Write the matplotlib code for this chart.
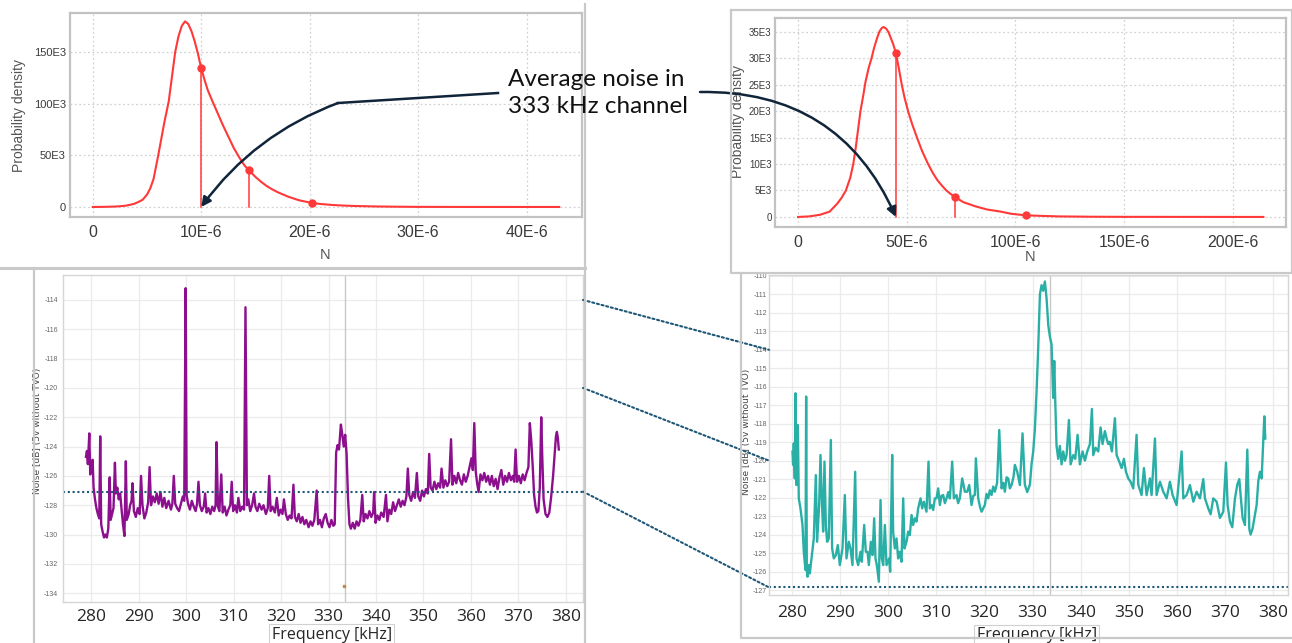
import matplotlib
matplotlib.use("Agg")
import matplotlib.pyplot as plt
from matplotlib.lines import Line2D
from matplotlib.patches import ConnectionPatch
from matplotlib.ticker import FuncFormatter

plt.rcParams["axes.unicode_minus"] = False

# ---- probability density of the average noise (N in 1e-6, density in 1e3) ----
pdf_a_n = [0, 1, 2, 2.5, 3, 3.4, 3.8, 4.2, 4.6, 5, 5.3, 5.6, 6, 6.3, 6.6, 7,
           7.3, 7.6, 7.9, 8.2, 8.5, 8.8, 9.1, 9.4, 9.7, 10, 10.3, 10.6, 11,
           11.5, 12, 12.5, 13, 13.5, 14, 14.4, 15, 15.5, 16, 16.5, 17, 18, 19,
           20.2, 21, 22, 23, 24, 26, 28, 30, 33, 36, 43]
pdf_a_d = [0, 0.1, 0.4, 0.7, 1.2, 2, 3, 4.8, 7, 12, 18, 27, 48, 65, 82, 102,
           126, 150, 165, 175, 179.5, 177, 170, 160, 148, 134, 123, 113, 103,
           91, 79, 68, 57, 48, 40, 35.5, 29, 24.5, 20.5, 17.3, 14.5, 10, 6.5,
           3.9, 2.9, 2, 1.4, 1, 0.5, 0.25, 0.1, 0.05, 0.02, 0]
pts_a_n = [10, 14.4, 20.2]
pts_a_d = [134, 35.5, 3.9]
stems_a = [0, 1]

pdf_b_n = [0, 5, 10, 14.5, 18, 20, 22, 24, 25.4, 26.5, 27.6, 28.7, 30, 31,
           32.5, 33.8, 35, 36.5, 37.5, 38.5, 39.3, 40.5, 41.5, 42.5, 43.8, 45,
           46.3, 47.7, 49, 50.6, 52.5, 54.7, 57, 59.8, 62, 64, 66, 68.2, 70, 72,
           76, 81.6, 87, 93.3, 98, 104.8, 112, 120, 135, 150, 214]
pdf_b_d = [0, 0.1, 0.4, 1, 2.5, 3.6, 5, 7.4, 10, 13, 16.5, 20, 23, 25.5,
           28.2, 30, 32, 34, 35.1, 35.7, 35.9, 35.6, 35, 34, 32.6, 31, 28.2,
           25, 22.5, 20, 17.5, 15, 12.5, 10, 8.3, 7, 6, 5, 4.4, 3.8, 2.8, 2,
           1.4, 1, 0.6, 0.3, 0.2, 0.1, 0.04, 0.02, 0]
pts_b_n = [45, 72, 104.8]
pts_b_d = [31, 3.8, 0.3]
stems_b = [0, 1]

ticks_a_x = [0, 10, 20, 30, 40]
ticks_a_y = [0, 50, 100, 150]
ticks_b_x = [0, 50, 100, 150, 200]
ticks_b_y = [0, 5, 10, 15, 20, 25, 30, 35]

# ---- noise spectra, frequency in kHz, level in dB ----
purple_f = [
    278.9, 279.1, 279.3, 279.6, 279.8, 280.1, 280.3, 280.5, 280.8, 281.1,
    281.4, 281.7, 281.9, 282.1, 282.4, 282.7, 283.0, 283.3, 283.6, 283.9,
    284.1, 284.4, 284.7, 285.0, 285.2, 285.5, 285.8, 286.1, 286.4, 286.7,
    287.0, 287.3, 287.5, 287.9, 288.2, 288.5, 288.7, 289.0, 289.4, 289.8,
    290.2, 290.5, 290.8, 291.2, 291.6, 292.0, 292.3, 292.6, 293.0, 293.4,
    293.8, 294.2, 294.6, 295.0, 295.4, 295.8, 296.3, 296.8, 297.1, 297.4,
    297.7, 298.1, 298.5, 298.9, 299.3, 299.6, 299.9, 300.1, 300.4, 300.8,
    301.2, 301.6, 302.0, 302.3, 302.6, 302.9, 303.3, 303.7, 304.0, 304.3,
    304.7, 305.1, 305.5, 305.9, 306.2, 306.4, 306.7, 307.0, 307.4, 307.7,
    308.1, 308.5, 308.9, 309.3, 309.6, 309.9, 310.3, 310.7, 311.0, 311.4,
    311.8, 312.2, 312.5, 312.8, 313.1, 313.5, 313.9, 314.3, 314.6, 315.0,
    315.4, 315.9, 316.3, 316.8, 317.2, 317.5, 317.8, 318.2, 318.7, 319.1,
    319.5, 319.9, 320.3, 320.6, 321.0, 321.4, 321.8, 322.2, 322.6, 322.9,
    323.3, 323.7, 324.1, 324.5, 324.9, 325.3, 325.8, 326.2, 326.6, 327.0,
    327.5, 327.8, 328.2, 328.6, 329.0, 329.4, 329.8, 330.2, 330.6, 331.0,
    331.3, 331.6, 331.9, 332.2, 332.6, 332.9, 333.2, 333.5, 333.8, 334.1,
    334.4, 334.7, 335.1, 335.5, 335.9, 336.3, 336.7, 337.1, 337.4, 337.8,
    338.2, 338.6, 339.0, 339.4, 339.6, 339.9, 340.3, 340.7, 341.1, 341.6,
    342.1, 342.4, 342.8, 343.2, 343.6, 344.0, 344.4, 344.8, 345.2, 345.6,
    346.0, 346.4, 346.7, 347.0, 347.4, 347.8, 348.2, 348.6, 348.9, 349.3,
    349.7, 350.1, 350.5, 350.9, 351.2, 351.5, 351.9, 352.3, 352.7, 353.1,
    353.5, 353.8, 354.2, 354.6, 355.0, 355.4, 355.8, 356.1, 356.5, 356.9,
    357.3, 357.7, 358.1, 358.5, 358.9, 359.3, 359.7, 360.1, 360.4, 360.7,
    361.0, 361.3, 361.6, 362.0, 362.4, 362.8, 363.2, 363.6, 364.0, 364.4,
    364.8, 365.2, 365.6, 366.0, 366.4, 366.8, 367.2, 367.6, 368.0, 368.4,
    368.8, 369.1, 369.4, 369.7, 370.1, 370.5, 370.9, 371.3, 371.7, 372.1,
    372.4, 372.7, 373.0, 373.3, 373.6, 373.9, 374.2, 374.5, 374.8, 375.0,
    375.3, 375.7, 376.1, 376.5, 376.9, 377.3, 377.6, 377.9, 378.1, 378.3,
    378.5]
purple_db = [
    -124.7, -124.3, -125.2, -123.1, -125.9, -125.6, -124.9, -126.8, -127.6, -128.2,
    -128.6, -128.9, -123.3, -129.3, -129.8, -130.2, -130.0, -130.2, -129.6, -126.1,
    -129.0, -128.6, -128.2, -125.1, -127.2, -126.8, -127.6, -127.2, -128.3, -129.3,
    -130.1, -125.0, -129.0, -128.6, -128.0, -127.7, -126.5, -128.4, -128.8, -128.2,
    -128.6, -126.0, -128.0, -128.9, -128.5, -127.8, -125.4, -128.0, -127.4, -127.8,
    -127.2, -127.9, -127.1, -128.1, -127.5, -128.2, -127.7, -128.3, -127.9, -126.0,
    -127.9, -128.2, -128.4, -127.9, -127.4, -127.7, -113.2, -127.3, -127.9, -128.3,
    -127.7, -128.1, -128.4, -127.9, -126.4, -128.0, -128.4, -128.1, -127.2, -128.5,
    -128.2, -128.6, -128.1, -128.4, -128.0, -123.7, -128.1, -128.4, -125.9, -128.5,
    -128.1, -128.7, -128.3, -128.0, -126.4, -128.4, -128.0, -128.5, -127.5, -128.4,
    -128.1, -128.3, -114.5, -128.0, -127.6, -128.4, -128.0, -127.2, -128.1, -128.4,
    -127.9, -128.3, -128.0, -128.6, -128.2, -126.0, -128.4, -128.1, -128.5, -127.5,
    -128.7, -128.3, -128.6, -127.6, -128.6, -129.0, -128.7, -128.9, -126.6, -128.8,
    -129.1, -128.6, -129.2, -128.8, -129.3, -129.0, -129.5, -129.1, -129.4, -129.0,
    -127.0, -129.3, -129.0, -129.5, -128.9, -128.6, -129.2, -129.5, -129.0, -129.4,
    -129.3, -124.4, -123.9, -124.2, -122.5, -123.2, -124.0, -123.2, -124.5, -127.5,
    -129.3, -129.6, -129.2, -129.6, -129.1, -129.4, -129.0, -127.3, -129.1, -128.6,
    -128.9, -128.4, -128.8, -128.5, -127.1, -129.2, -128.7, -129.0, -128.5, -128.8,
    -127.3, -129.1, -128.3, -128.6, -127.8, -128.4, -128.0, -127.6, -128.1, -127.7,
    -128.0, -127.4, -125.5, -127.3, -127.7, -127.1, -127.5, -125.8, -127.4, -127.7,
    -127.0, -127.4, -126.9, -127.2, -124.5, -126.8, -127.0, -126.4, -126.9, -126.5,
    -126.8, -125.5, -126.8, -126.3, -126.7, -126.4, -123.5, -126.6, -126.0, -126.5,
    -125.8, -126.3, -126.6, -125.9, -126.4, -126.0, -125.4, -124.8, -125.6, -122.4,
    -125.7, -126.5, -127.1, -125.9, -126.3, -125.8, -126.4, -126.0, -126.6, -126.0,
    -126.7, -126.2, -126.9, -126.1, -125.6, -126.6, -126.0, -126.4, -125.8, -126.3,
    -126.0, -126.4, -124.2, -126.4, -126.0, -126.5, -125.9, -126.3, -125.8, -125.4,
    -122.4, -123.6, -125.3, -127.3, -128.1, -128.5, -128.4, -126.8, -122.0, -124.5,
    -127.6, -128.6, -128.8, -128.5, -127.4, -126.0, -124.6, -123.3, -123.0, -123.4,
    -124.2]

teal_f = [
    280.08, 280.21, 280.35, 280.56, 280.70, 280.91, 281.05, 281.19, 281.39, 281.74,
    282.16, 282.43, 282.78, 282.92, 283.06, 283.20, 283.48, 283.68, 284.03, 284.51,
    284.93, 285.20, 285.62, 285.90, 286.17, 286.45, 286.73, 287.01, 287.28, 287.63,
    288.05, 288.32, 288.67, 289.09, 289.50, 289.92, 290.47, 290.96, 291.30, 291.79,
    292.14, 292.55, 293.11, 293.38, 293.73, 294.21, 294.49, 294.98, 295.32, 295.67,
    295.95, 296.36, 296.71, 297.06, 297.33, 297.61, 298.03, 298.38, 298.65, 298.93,
    299.28, 299.62, 300.18, 300.38, 300.80, 301.00, 301.35, 301.70, 302.04, 302.39,
    302.74, 303.09, 303.36, 303.78, 304.12, 304.47, 304.82, 305.16, 305.51, 305.85,
    306.20, 306.69, 307.03, 307.38, 307.93, 308.35, 308.63, 308.97, 309.32, 309.67,
    310.01, 310.36, 310.71, 311.05, 311.40, 311.75, 312.10, 312.45, 312.79, 313.27,
    313.62, 314.17, 314.50, 314.86, 315.35, 315.91, 316.39, 316.81, 317.29, 317.65,
    317.98, 318.19, 318.68, 319.05, 319.37, 320.06, 320.40, 320.76, 321.10, 321.45,
    321.80, 322.14, 322.60, 323.05, 323.53, 323.90, 324.22, 324.57, 324.92, 325.25,
    325.61, 326.00, 326.30, 326.79, 327.34, 327.89, 328.37, 328.86, 329.42, 329.76,
    330.11, 330.45, 330.80, 331.15, 331.50, 331.84, 332.19, 332.54, 332.88, 333.23,
    333.58, 333.92, 334.27, 334.48, 334.69, 334.96, 335.31, 335.65, 336.00, 336.35,
    336.70, 337.04, 337.53, 337.88, 338.43, 338.84, 339.33, 339.81, 340.37, 340.85,
    341.34, 341.89, 342.31, 342.58, 343.07, 343.62, 344.11, 344.52, 345.01, 345.36,
    345.70, 346.05, 346.46, 347.09, 347.44, 347.99, 348.48, 348.96, 349.38, 349.86,
    350.35, 350.90, 351.59, 351.94, 352.63, 353.12, 353.67, 354.37, 354.71, 355.41,
    355.75, 356.45, 357.14, 357.83, 358.52, 359.08, 359.91, 360.95, 361.30, 361.99,
    362.68, 363.38, 364.07, 364.76, 365.45, 365.80, 366.49, 366.98, 367.53, 368.23,
    368.92, 369.61, 370.17, 370.51, 371.00, 371.48, 372.04, 372.52, 372.94, 373.21,
    373.63, 374.11, 374.60, 375.02, 375.29, 375.71, 376.19, 376.54, 376.89, 377.23,
    377.58, 377.93, 378.14, 378.34]
teal_db = [
    -119.51, -120.23, -119.06, -120.96, -116.35, -121.32, -120.50, -118.07, -122.04, -122.58,
    -123.48, -124.93, -125.92, -116.53, -125.90, -126.28, -125.65, -126.10, -125.29, -124.21,
    -120.78, -124.39, -122.40, -119.69, -122.04, -123.84, -120.05, -123.48, -124.39, -124.21,
    -118.88, -124.75, -125.29, -125.11, -124.57, -125.65, -124.75, -121.86, -125.29, -124.39,
    -124.75, -125.65, -120.60, -125.29, -125.65, -124.93, -125.47, -123.48, -124.93, -124.93,
    -125.65, -124.39, -125.11, -123.12, -125.29, -125.65, -126.55, -122.13, -125.29, -125.65,
    -123.48, -125.65, -125.29, -126.01, -119.69, -123.84, -124.75, -124.21, -125.29, -124.93,
    -125.47, -122.04, -124.75, -124.39, -123.84, -124.03, -122.94, -123.48, -123.12, -123.30,
    -122.58, -122.04, -122.58, -122.22, -122.76, -120.05, -122.58, -122.40, -122.67, -122.04,
    -122.04, -121.50, -122.40, -121.90, -121.86, -122.30, -122.04, -121.70, -122.04, -120.05,
    -122.04, -121.86, -122.30, -122.04, -120.96, -121.68, -121.68, -121.32, -122.40, -121.90,
    -121.86, -119.87, -122.04, -122.50, -122.76, -122.40, -121.80, -122.04, -121.60, -121.86,
    -121.40, -121.68, -121.20, -118.34, -121.50, -121.20, -121.68, -120.90, -120.96, -121.50,
    -121.32, -120.90, -120.23, -120.60, -121.32, -118.52, -121.30, -121.70, -121.30, -120.20,
    -119.50, -118.30, -116.30, -113.90, -111.00, -110.50, -110.80, -110.30, -111.20, -112.65,
    -113.30, -113.70, -116.60, -114.60, -116.80, -119.20, -119.90, -119.20, -120.20, -119.50,
    -120.00, -119.70, -117.80, -120.20, -119.70, -119.90, -118.60, -120.20, -119.50, -120.00,
    -119.50, -119.10, -117.20, -119.70, -119.30, -119.50, -118.20, -119.10, -118.40, -118.80,
    -119.10, -118.98, -119.50, -117.70, -119.70, -120.05, -120.40, -119.90, -120.60, -120.96,
    -121.14, -121.50, -118.60, -121.30, -121.86, -120.40, -121.86, -120.96, -121.86, -118.80,
    -121.86, -121.14, -121.68, -122.04, -121.14, -121.86, -122.40, -119.50, -122.04, -121.86,
    -121.32, -122.22, -121.68, -122.04, -121.00, -122.04, -122.58, -122.90, -122.04, -122.22,
    -123.10, -122.76, -120.10, -122.40, -123.30, -123.60, -122.04, -121.30, -121.00, -121.86,
    -123.10, -123.48, -119.40, -123.70, -124.00, -123.66, -122.94, -122.40, -121.10, -120.60,
    -120.96, -118.80, -117.60, -118.80]

avg_purple = -127.07
avg_teal = -126.86
channel_khz = 333.5
freq_ticks = [280, 290, 300, 310, 320, 330, 340, 350, 360, 370, 380]
purple_yticks = [-134, -132, -130, -128, -126, -124, -122, -120, -118, -116, -114]
teal_yticks = list(range(-127, -109))
links_db = [(-114, -114), (-120, -120), (avg_purple, avg_teal)]

RED = "#ff3838"
PURPLE = "#8c0f8e"
TEAL = "#2aafa6"
NAVY = "#10243a"
DOTS = "#1f5877"

W, H = 1292, 643
fig = plt.figure(figsize=(W / 100, H / 100), dpi=100)


def place(l, t, r, b):
    return fig.add_axes([l / W, 1 - b / H, (r - l) / W, (b - t) / H])


def edge(xs, ys, color="#c9c9c9", lw=1.6):
    fig.add_artist(Line2D([x / W for x in xs], [1 - y / H for y in ys],
                          transform=fig.transFigure, color=color, lw=lw))


def e_label(exp):
    def fmt(v, pos):
        k = round(v / 10 ** exp)
        return "0" if k == 0 else f"{k}E{exp}"
    return FuncFormatter(fmt)


# panel frames
edge([0, 585], [267.5, 267.5], lw=2.2)
edge([585, 585], [4, 643])
edge([34, 34], [268, 643])
edge([731, 1292, 1292, 731, 731], [10, 10, 273, 273, 10])
edge([741, 741, 1292], [273, 638, 638])

# ---- density plots ----
ax1 = place(70, 13, 582, 217)
ax2 = place(775, 18, 1286, 227)
dens = [(ax1, pdf_a_n, pdf_a_d, pts_a_n, pts_a_d, stems_a, ticks_a_x, ticks_a_y, 8),
        (ax2, pdf_b_n, pdf_b_d, pts_b_n, pts_b_d, stems_b, ticks_b_x, ticks_b_y, 7)]
for ax, xn, yd, px, py, stems, tx, ty, ysize in dens:
    ax.plot([v * 1e-6 for v in xn], [v * 1e3 for v in yd], color=RED, lw=1.5)
    for i in stems:
        ax.plot([px[i] * 1e-6] * 2, [0, py[i] * 1e3], color=RED, lw=1.1)
    ax.plot([v * 1e-6 for v in px], [v * 1e3 for v in py], "o", color=RED, ms=5)
    ax.set_xticks([v * 1e-6 for v in tx])
    ax.set_yticks([v * 1e3 for v in ty])
    ax.xaxis.set_major_formatter(e_label(-6))
    ax.yaxis.set_major_formatter(e_label(3))
    ax.set_axisbelow(True)
    ax.grid(True, ls=(0, (1.5, 2)), color="#d2d2d2", lw=0.9)
    for s in ax.spines.values():
        s.set_color("#c2c2c2")
        s.set_linewidth(1.6)
    ax.tick_params(length=0, colors="#3a3a3a")
    for lab in ax.get_xticklabels():
        lab.set_family("Liberation Sans")
        lab.set_fontsize(11.5)
    for lab in ax.get_yticklabels():
        lab.set_family("Liberation Sans")
        lab.set_fontsize(ysize)
    ax.set_xlabel("N", family="Liberation Sans", fontsize=10.5, color="#555555")
    ax.set_ylabel("Probability density", family="Liberation Sans", fontsize=10,
                  color="#555555")

ax1.set_xlim(-2.1e-6, 45.1e-6)
ax1.set_ylim(-9.7e3, 187.6e3)
ax1.tick_params(axis="x", pad=6)
ax1.tick_params(axis="y", pad=3)
ax1.xaxis.set_label_coords(0.498, -0.15)
ax1.yaxis.set_label_coords(-0.085, 0.5)

ax2.set_xlim(-10.6e-6, 224.4e-6)
ax2.set_ylim(-1.9e3, 37.6e3)
ax2.tick_params(axis="x", pad=6)
ax2.tick_params(axis="y", pad=2.5)
ax2.xaxis.set_label_coords(0.499, -0.11)
ax2.yaxis.set_label_coords(-0.058, 0.507)

# ---- noise spectra ----
ax3 = place(63, 275, 583, 602)
ax4 = place(769, 275, 1288, 595)
spec = [(ax3, purple_f, purple_db, PURPLE, avg_purple, purple_yticks),
        (ax4, teal_f, teal_db, TEAL, avg_teal, teal_yticks)]
for ax, f, db, col, avg, yt in spec:
    ax.axvline(channel_khz, color="#c8c8c8", lw=1)
    ax.plot(f, db, color=col, lw=1.7)
    ax.axhline(avg, color=DOTS, lw=1.5, ls=(0, (1, 1.3)), clip_on=False)
    ax.set_xticks(freq_ticks)
    ax.set_yticks(yt)
    ax.set_axisbelow(True)
    ax.grid(True, color="#ebebeb", lw=0.9)
    for s in ax.spines.values():
        s.set_color("#d6d6d6")
        s.set_linewidth(1)
    ax.tick_params(length=0)
    ax.tick_params(axis="x", colors="#262626")
    ax.tick_params(axis="y", colors="#666666")
    for lab in ax.get_xticklabels():
        lab.set_family("Open Sans")
        lab.set_fontsize(12.5)
    for lab in ax.get_yticklabels():
        lab.set_family("Liberation Sans")
        lab.set_fontsize(5)
    ax.set_xlabel("Frequency [kHz]", family="Open Sans", fontsize=11.5,
                  color="#262626",
                  bbox=dict(boxstyle="square,pad=0.15", fc="white",
                            ec="#d0d0d0", lw=0.8))
    ax.set_ylabel("Noise [dB] (5v without TVO)", fontsize=6.5, color="#444444")

ax3.set_xlim(274.06, 383.6)
ax3.set_ylim(-134.6, -112.3)
ax3.tick_params(axis="x", pad=5)
ax3.tick_params(axis="y", pad=3.5)
ax3.xaxis.set_label_coords(0.517, -0.075)
ax3.yaxis.set_label_coords(-0.04, 0.523)
ax3.plot([333.3], [-133.5], "s", color="#c08a50", ms=1.5)

ax4.set_xlim(275.2, 383.06)
ax4.set_ylim(-127.27, -109.95)
ax4.tick_params(axis="x", pad=7)
ax4.tick_params(axis="y", pad=1.5)
ax4.xaxis.set_label_coords(0.516, -0.1)
ax4.yaxis.set_label_coords(-0.034, 0.51)

# dotted links between the two spectra
for left_db, right_db in links_db:
    fig.add_artist(ConnectionPatch(
        xyA=(1.0, left_db), coordsA=ax3.get_yaxis_transform(),
        xyB=(0.0, right_db), coordsB=ax4.get_yaxis_transform(),
        color=DOTS, lw=1.5, ls=(0, (1, 1.3))))

# ---- callout ----
fig.text(508 / W, 1 - 93 / H, "Average noise in\n333 kHz channel",
         family="Lato", fontsize=17.5, color="#111111", va="center",
         ha="left", linespacing=1.32)
edge([498, 338], [93, 103], color=NAVY, lw=1.8)
ax1.annotate("", xy=(pts_a_n[0] * 1e-6, 0), xycoords="data",
             xytext=(338 / W, 1 - 103 / H), textcoords="figure fraction",
             arrowprops=dict(arrowstyle="-|>", connectionstyle="arc3,rad=0.15",
                             color=NAVY, lw=1.8, shrinkA=0, shrinkB=0,
                             mutation_scale=14))
ax2.annotate("", xy=(pts_b_n[0] * 1e-6, 0), xycoords="data",
             xytext=(700 / W, 1 - 92 / H), textcoords="figure fraction",
             arrowprops=dict(arrowstyle="-|>", connectionstyle="arc3,rad=-0.33",
                             color=NAVY, lw=1.8, shrinkA=0, shrinkB=0,
                             mutation_scale=14))

fig.savefig("out.png", dpi=100)
